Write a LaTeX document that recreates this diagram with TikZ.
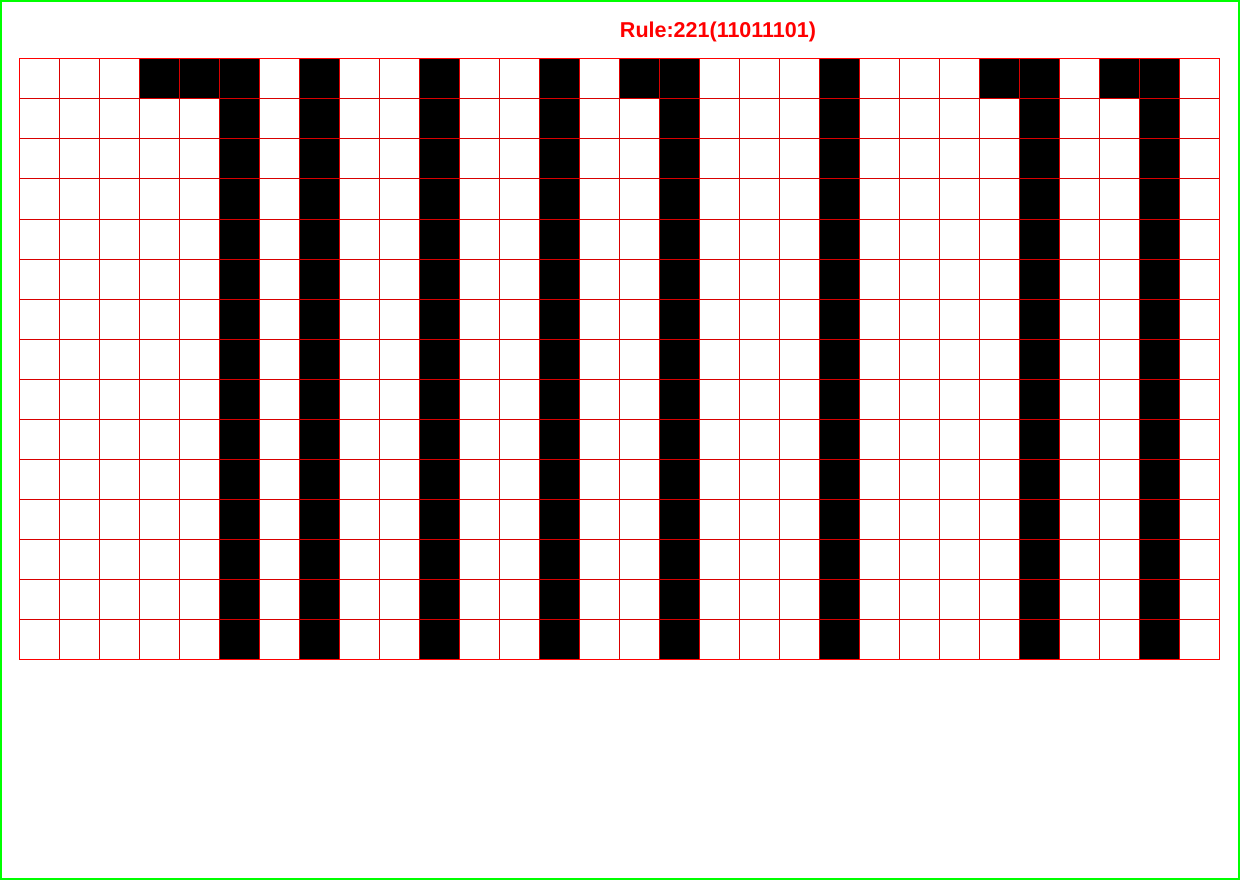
\documentclass[tikz,border=0pt]{standalone}
\usepackage{fontspec}
\setmainfont{Liberation Sans}

\begin{document}
\begin{tikzpicture}[
    x=1pt,y=-1pt,
    cell/.style={fill=black},
    gridline/.style={draw=red!85!black,line width=1pt},
    outline/.style={draw=red,line width=1pt},
    frame/.style={draw=green,line width=2pt}
  ]
    \useasboundingbox (0,0) rectangle (1240,880);
    \draw[frame] (1,1) rectangle (1239,879);

    \node[text=red,font=\bfseries\fontsize{21.5}{25}\selectfont] (title) at (718,32) {Rule:221(11011101)};

    \begin{scope}[shift={(19,59)}]
      % first generation
      \foreach \c in {3,4,5,7,10,13,15,16,20,24,25,27,28}
        \fill[cell] ({40*\c},0) rectangle ++(40,40);
      % later generations
      \foreach \c in {5,7,10,13,16,20,25,28}
        \fill[cell] ({40*\c},40) rectangle ++(40,560);
      \foreach \i in {1,...,29}
        \draw[gridline] ({40*\i},0) -- ({40*\i},600);
      \foreach \j in {1,...,14}
        \draw[gridline] (0,{40*\j}) -- (1200,{40*\j});
      \draw[outline] (0,0) rectangle (1200,600);
    \end{scope}
  \end{tikzpicture}
\end{document}
